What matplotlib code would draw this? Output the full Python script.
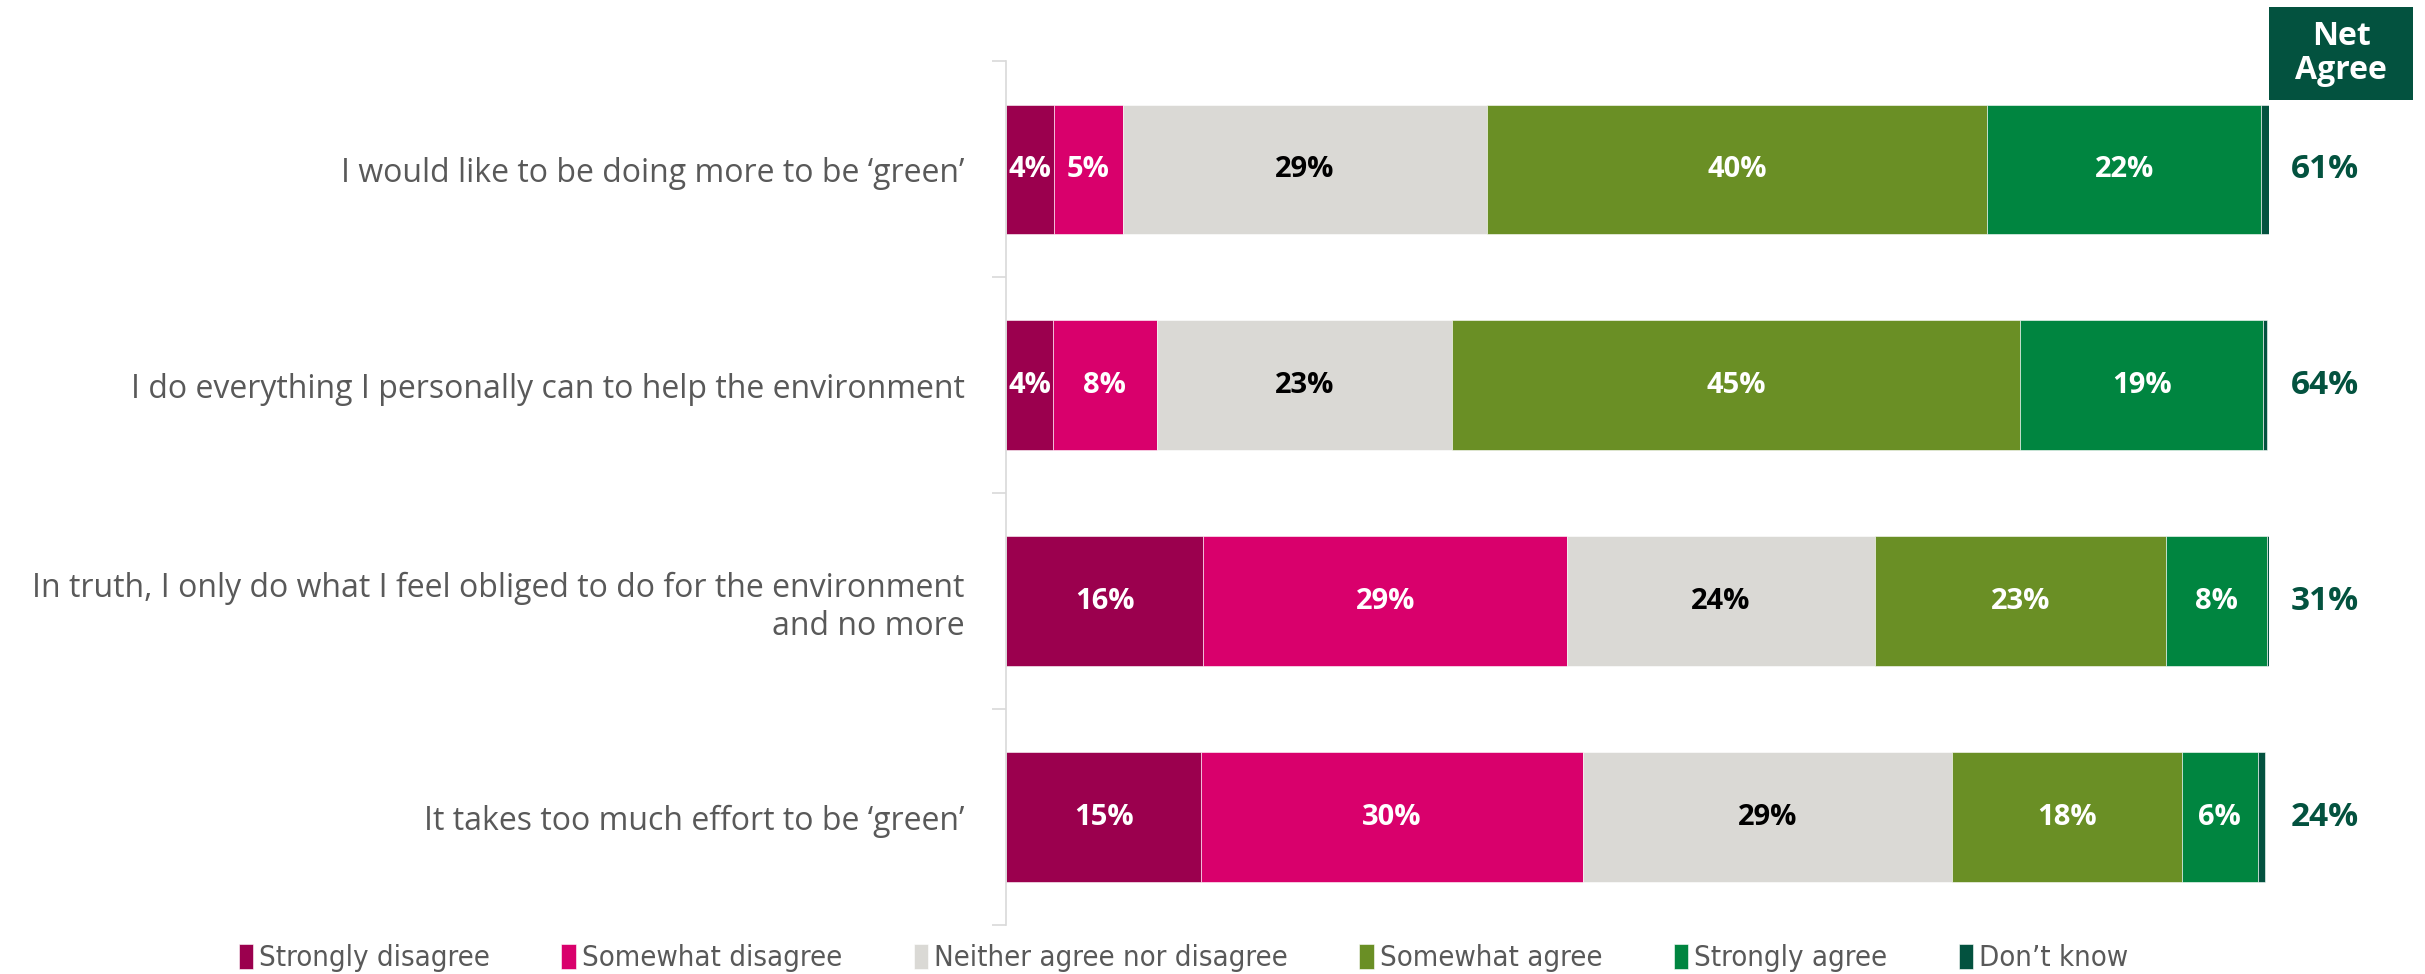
import matplotlib.pyplot as plt
import numpy as np
from matplotlib.patches import Rectangle

statements = [
    "I would like to be doing more to be \u2018green\u2019",
    "I do everything I personally can to help the environment",
    "In truth, I only do what I feel obliged to do for the environment\nand no more",
    "It takes too much effort to be \u2018green\u2019",
]
responses = ["Strongly disagree", "Somewhat disagree", "Neither agree nor disagree",
             "Somewhat agree", "Strongly agree", "Don\u2019t know"]
colors = ["#9B004E", "#D9006C", "#DAD9D5", "#6A8F25", "#008540", "#03523F"]
label_colors = ["white", "white", "black", "white", "white", None]

strongly_disagree = [3.8, 3.7, 15.6, 15.4]
somewhat_disagree = [5.4, 8.2, 28.8, 30.3]
neither = [28.9, 23.4, 24.4, 29.2]
somewhat_agree = [39.6, 45.0, 23.0, 18.2]
strongly_agree = [21.7, 19.2, 8.0, 6.0]
dont_know = [0.6, 0.3, 0.3, 0.6]
net_agree = [61, 64, 31, 24]

series = [strongly_disagree, somewhat_disagree, neither, somewhat_agree, strongly_agree, dont_know]

plt.rcParams['font.family'] = ['Open Sans', 'DejaVu Sans']

fig = plt.figure(figsize=(24.25, 9.74), dpi=100)
ax = fig.add_axes([0.415, 0.0503, 0.5207, 0.8867])

y = np.arange(len(statements))
left = np.zeros(len(statements))
for vals, name, col, lc in zip(series, responses, colors, label_colors):
    vals = np.array(vals)
    ax.barh(y, vals, left=left, height=0.6, color=col, label=name,
            edgecolor="white", linewidth=0.4)
    if lc is not None:
        for yi, l, v in zip(y, left, vals):
            ax.text(l + v / 2, yi, f"{round(v):.0f}%", ha="center", va="center",
                    color=lc, fontsize=21, fontweight="bold")
    left += vals

for yi, v in zip(y, net_agree):
    ax.text(104.4, yi, f"{v}%", ha="center", va="center", color="#03523F",
            fontsize=24, fontweight="bold")

ax.set_xlim(0, 100)
ax.set_ylim(len(statements) - 0.5, -0.5)
ax.set_yticks(y)
ax.set_yticklabels(statements, fontsize=23, color="#595959", ha="right")
ax.tick_params(axis="y", length=0, pad=30)
ax.set_yticks(np.arange(len(statements) + 1) - 0.5, minor=True)
ax.tick_params(axis="y", which="minor", length=10, color="#D9D9D9", width=1.2)
ax.set_xticks([])
for side in ["top", "right", "bottom"]:
    ax.spines[side].set_visible(False)
ax.spines["left"].set_color("#D9D9D9")
ax.spines["left"].set_linewidth(1.2)

# header box above the net agree column
fig.patches.append(Rectangle((0.9357, 0.8973), 0.0594, 0.0955, transform=fig.transFigure,
                             facecolor="#03523F", edgecolor="none"))
fig.text(0.9654, 0.945, "Net\nAgree", ha="center", va="center", color="white",
         fontsize=23, fontweight="bold", linespacing=1.05)

leg = fig.legend(loc="center", bbox_to_anchor=(0.488, 0.016), ncol=6,
                 frameon=False, handlelength=0.5, handleheight=0.9,
                 handletextpad=0.2, columnspacing=2.45,
                 prop=dict(family='DejaVu Sans', stretch='condensed', size=21))
for t in leg.get_texts():
    t.set_color("#595959")

fig.savefig("out.png", dpi=100)
